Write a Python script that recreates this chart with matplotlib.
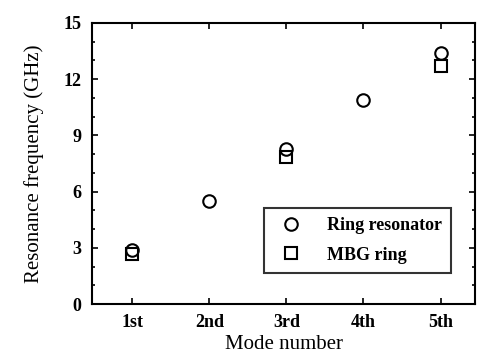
import numpy as np
import matplotlib
matplotlib.use("Agg")
import matplotlib.pyplot as plt
from matplotlib.ticker import MultipleLocator

modes = ["1st", "2nd", "3rd", "4th", "5th"]
ring_resonator = [2.9, 5.5, 8.3, 10.9, 13.4]
mbg_ring = [2.65, np.nan, 7.85, np.nan, 12.7]

plt.rcParams['font.family'] = ['Liberation Serif', 'DejaVu Serif']

fig = plt.figure(figsize=(4.8, 3.57), dpi=100)
ax = fig.add_axes([0.192, 0.148, 0.798, 0.788])
x = np.arange(1, len(modes) + 1)
ax.plot(x, ring_resonator, 'o', mfc='white', mec='black', mew=1.5, ms=9, ls='none', label='Ring resonator')
ax.plot(x, mbg_ring, 's', mfc='none', mec='black', mew=1.5, ms=8, ls='none', label='MBG ring')

ax.set_xlim(0.48, 5.45)
ax.set_ylim(0, 15)
ax.set_xticks(x)
ax.set_xticklabels(modes, fontweight='bold', fontsize=13)
ax.set_yticks([0, 3, 6, 9, 12, 15])
ax.set_yticklabels(['0', '3', '6', '9', '12', '15'], fontweight='bold', fontsize=13)
ax.yaxis.set_minor_locator(MultipleLocator(1))
ax.tick_params(which='both', direction='in', top=True, right=True, width=1.2)
ax.tick_params(which='major', length=4)
ax.tick_params(which='minor', length=2)
ax.tick_params(axis='y', pad=8)
ax.tick_params(axis='x', pad=7)
for s in ax.spines.values():
    s.set_linewidth(1.5)
ax.set_xlabel('Mode number', fontsize=15, labelpad=3)
ax.set_ylabel('Resonance frequency (GHz)', fontsize=15, labelpad=14)
leg = ax.legend(loc='lower right', bbox_to_anchor=(0.96, 0.08), frameon=True, fancybox=False,
                edgecolor='black', prop={'weight': 'bold', 'size': 13}, handletextpad=1.0,
                borderpad=0.5, labelspacing=0.7)
leg.get_frame().set_linewidth(1.5)
fig.savefig('out.png', dpi=100)
